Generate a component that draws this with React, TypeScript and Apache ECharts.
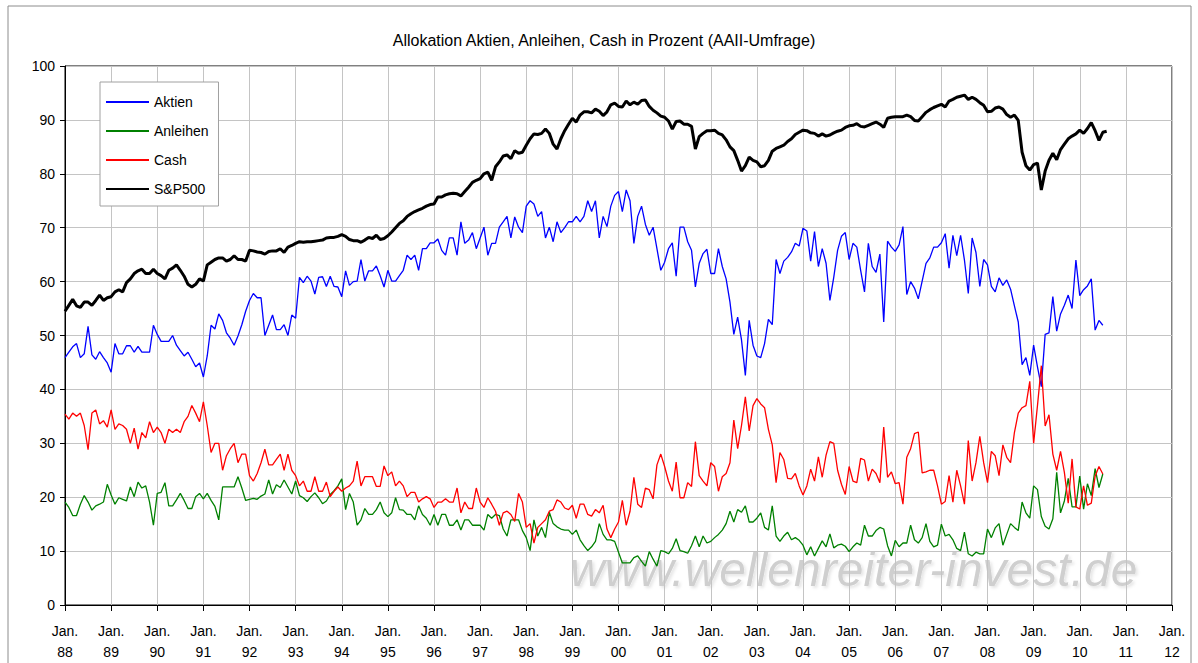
import React, { useEffect, useRef } from "react";
import * as echarts from "echarts";

// Monthly survey values starting Jan. 1988
const START_YEAR = 1988;
const TITLE = "Allokation Aktien, Anleihen, Cash in Prozent (AAII-Umfrage)";
const SERIES_NAMES = ["Aktien", "Anleihen", "Cash", "S&P500"];
const Y_TICKS_MAX = 100;
const X_MIN_YEAR = 1988;
const X_MAX_YEAR = 2012;

const aktien = [
  45.9, 46.9, 47.9, 48.5, 45.9, 46.6, 51.7, 46.4, 45.6, 47.0, 45.9, 44.9,
  43.2, 48.5, 46.6, 46.6, 48.1, 48.1, 46.9, 48.0, 46.9, 46.9, 46.9, 51.9,
  50.2, 48.9, 48.9, 48.9, 50.0, 48.2, 47.2, 46.2, 46.9, 45.6, 44.2, 44.9,
  42.3, 46.2, 51.9, 51.2, 54.0, 52.8, 50.5, 49.5, 48.2, 49.9, 52.0, 54.5,
  56.5, 57.8, 57.0, 57.0, 50.0, 51.9, 53.8, 51.1, 51.1, 52.0, 50.0, 53.8,
  53.2, 60.8, 59.8, 61.0, 60.1, 57.7, 60.8, 60.9, 59.1, 61.0, 59.1, 59.0,
  57.2, 62.0, 59.3, 60.0, 60.1, 64.1, 60.1, 62.0, 62.0, 62.9, 61.1, 59.0,
  62.1, 60.1, 60.1, 61.1, 62.1, 64.9, 64.1, 64.9, 62.1, 66.1, 66.1, 67.2,
  67.2, 67.9, 65.8, 64.9, 68.1, 68.1, 64.9, 71.1, 67.1, 67.7, 69.1, 66.1,
  68.1, 70.1, 64.9, 67.1, 67.1, 70.1, 71.1, 72.1, 68.1, 72.0, 70.1, 69.1,
  74.0, 75.0, 74.4, 72.1, 73.0, 68.1, 70.1, 67.4, 71.1, 69.1, 70.0, 71.1,
  71.1, 72.1, 71.1, 72.1, 75.0, 73.0, 75.0, 68.1, 72.1, 70.2, 74.0, 76.0,
  76.7, 73.0, 77.0, 75.0, 67.1, 72.1, 74.0, 70.6, 68.6, 70.1, 66.1, 62.1,
  63.6, 66.1, 67.2, 61.0, 70.1, 70.1, 67.4, 65.8, 59.0, 63.4, 65.2, 66.0,
  61.5, 61.5, 66.1, 62.8, 60.5, 56.2, 50.2, 53.4, 49.2, 42.6, 52.8, 48.2,
  46.2, 45.9, 48.5, 53.0, 52.0, 64.1, 61.5, 63.8, 64.5, 65.5, 67.1, 66.6,
  69.9, 69.4, 63.8, 69.3, 62.8, 66.1, 63.4, 56.5, 60.8, 65.8, 68.4, 69.1,
  64.1, 67.1, 66.4, 62.1, 58.1, 67.1, 62.8, 61.7, 65.1, 52.5, 67.5, 66.4,
  65.6, 66.8, 70.2, 57.6, 60.0, 58.8, 56.8, 60.1, 63.4, 64.4, 66.4, 66.4,
  67.2, 68.9, 62.5, 68.6, 64.8, 68.6, 64.0, 57.8, 68.1, 65.4, 59.1, 64.1,
  63.1, 59.1, 58.1, 60.7, 59.3, 60.3, 58.6, 55.5, 52.5, 44.6, 45.9, 42.6,
  48.2, 44.2, 40.5, 50.2, 50.5, 57.2, 50.8, 54.0, 55.6, 57.5, 55.0, 64.0,
  57.4, 58.5, 59.2, 60.5, 51.0, 52.8, 51.9,
];

const anleihen = [
  19.1, 18.1, 16.6, 16.6, 18.7, 20.3, 19.1, 17.6, 18.4, 18.7, 19.1, 22.4,
  20.4, 18.7, 19.9, 19.6, 19.3, 21.9, 20.1, 22.8, 21.7, 22.1, 19.1, 14.8,
  20.7, 20.9, 22.7, 18.4, 18.4, 19.5, 20.7, 19.4, 17.9, 17.9, 20.1, 20.7,
  19.7, 20.7, 19.4, 18.3, 15.8, 21.9, 21.9, 21.9, 21.9, 23.8, 21.7, 19.4,
  19.6, 19.8, 19.6, 20.2, 20.6, 23.2, 20.6, 22.3, 21.8, 23.2, 21.9, 20.6,
  23.0, 20.3, 19.9, 19.2, 20.1, 20.8, 19.9, 18.8, 19.3, 20.5, 21.2, 22.1,
  23.4, 17.7, 20.7, 19.1, 14.8, 15.8, 17.9, 16.8, 16.8, 17.7, 19.1, 17.1,
  16.4, 17.1, 19.9, 17.7, 17.6, 16.8, 16.8, 15.8, 18.4, 16.8, 16.1, 14.8,
  16.8, 14.8, 16.8, 16.8, 14.8, 14.8, 15.8, 13.9, 15.8, 15.8, 14.8, 14.8,
  14.8, 13.9, 16.8, 16.1, 16.8, 16.6, 14.1, 12.8, 15.8, 15.8, 15.8, 13.8,
  12.5, 10.1, 15.8, 12.8, 14.4, 12.5, 17.2, 15.1, 14.5, 14.1, 13.9, 13.9,
  13.1, 13.9, 12.1, 11.0, 10.1, 10.8, 11.8, 15.1, 13.1, 12.1, 12.1, 11.8,
  9.8, 7.8, 7.8, 7.8, 8.8, 9.1, 8.1, 7.2, 9.9, 8.5, 7.2, 10.1,
  9.9, 9.5, 10.5, 12.3, 10.1, 9.9, 9.6, 11.0, 12.8, 10.8, 12.8, 11.5,
  11.8, 12.5, 13.1, 13.9, 15.1, 17.4, 15.4, 17.7, 17.2, 18.4, 15.4, 15.4,
  16.1, 17.1, 14.4, 13.9, 18.4, 12.8, 11.8, 12.8, 13.5, 12.1, 12.5, 12.0,
  11.1, 9.3, 10.8, 9.1, 10.5, 11.9, 10.8, 13.2, 10.6, 11.1, 11.3, 10.9,
  9.9, 10.8, 11.5, 11.1, 14.8, 12.8, 12.8, 13.8, 14.4, 14.1, 11.0, 9.1,
  12.0, 10.8, 11.5, 11.5, 14.8, 12.1, 11.5, 12.5, 15.1, 11.8, 10.8, 11.1,
  15.0, 12.8, 13.1, 12.1, 10.5, 10.1, 13.5, 9.5, 9.1, 9.8, 9.5, 9.5,
  14.1, 12.5, 14.3, 15.1, 11.1, 13.1, 15.1, 14.4, 13.8, 19.1, 17.1, 16.1,
  22.1, 21.4, 16.4, 14.6, 14.1, 16.0, 24.6, 17.1, 19.3, 23.5, 18.2, 18.2,
  23.9, 17.8, 22.5, 20.3, 25.3, 21.8, 24.3,
];

const cash = [
  35.4, 34.5, 35.6, 35.0, 35.6, 33.3, 28.8, 35.6, 36.2, 33.6, 34.2, 33.0,
  36.2, 32.6, 33.6, 33.3, 32.6, 30.0, 32.8, 28.9, 32.0, 31.0, 34.0, 32.0,
  33.0, 32.0, 30.0, 32.6, 32.0, 32.6, 32.0, 34.0, 35.0, 37.0, 35.6, 34.0,
  37.7, 33.3, 28.3, 30.0, 30.0, 25.0, 27.7, 29.0, 30.0, 26.4, 28.0, 28.0,
  24.0, 23.0, 24.4, 26.4, 28.9, 26.0, 26.0, 27.0, 28.0, 25.0, 28.0, 25.0,
  24.0, 22.1, 23.0, 21.1, 21.1, 23.8, 21.1, 21.1, 22.8, 20.1, 21.1, 21.9,
  21.1, 21.7, 22.1, 23.0, 26.7, 22.1, 23.8, 23.8, 23.8, 22.0, 22.0, 25.8,
  24.0, 24.7, 22.1, 23.0, 22.1, 20.1, 20.9, 20.9, 19.1, 19.7, 20.1, 19.7,
  18.1, 19.1, 19.1, 19.7, 19.1, 19.1, 21.7, 17.1, 19.1, 17.9, 17.9, 21.7,
  19.1, 18.1, 19.9, 18.7, 17.4, 14.8, 17.1, 17.4, 16.8, 15.5, 20.7, 19.1,
  14.4, 15.1, 11.5, 14.4, 15.1, 15.8, 17.4, 17.7, 19.5, 19.1, 18.0, 17.7,
  18.5, 16.1, 18.7, 18.7, 16.8, 16.5, 17.7, 17.1, 18.5, 14.1, 12.5, 14.1,
  15.4, 19.4, 14.8, 17.4, 23.7, 18.7, 18.1, 21.7, 21.4, 19.7, 26.0, 28.0,
  25.7, 23.0, 21.1, 26.5, 19.9, 19.9, 22.7, 22.0, 30.3, 24.0, 23.0, 22.1,
  26.4, 25.7, 21.1, 23.8, 24.4, 26.4, 34.3, 29.0, 33.3, 38.6, 32.3, 37.0,
  38.3, 37.3, 36.6, 32.6, 29.7, 22.7, 28.3, 27.0, 23.5, 23.4, 24.4, 22.1,
  20.4, 22.1, 25.2, 23.0, 27.5, 23.7, 27.8, 30.3, 30.0, 25.0, 22.4, 20.5,
  25.7, 23.0, 22.7, 27.2, 26.9, 23.0, 25.2, 24.4, 22.7, 33.0, 23.7, 24.7,
  22.5, 22.7, 18.7, 27.4, 29.0, 31.8, 32.1, 24.5, 24.7, 25.0, 25.0, 22.1,
  18.7, 19.2, 24.0, 19.1, 25.0, 22.1, 18.7, 30.5, 23.0, 26.4, 31.3, 26.4,
  22.7, 28.5, 27.7, 24.0, 29.7, 27.4, 26.4, 32.0, 35.6, 36.6, 37.0, 41.5,
  30.0, 37.0, 44.4, 33.2, 35.3, 28.0, 25.0, 28.5, 24.6, 18.9, 27.1, 18.2,
  17.8, 22.1, 18.5, 18.9, 23.9, 25.7, 24.3,
];

// S&P 500, rescaled onto the same percent axis as in the original chart
const sp500 = [
  54.5, 55.6, 56.7, 55.5, 55.2, 56.2, 56.2, 55.6, 56.5, 57.5, 56.5, 57.0,
  57.2, 58.1, 58.5, 58.1, 59.8, 60.5, 61.5, 62.0, 62.3, 61.5, 61.5, 62.3,
  61.5, 61.1, 60.5, 62.1, 62.5, 63.1, 62.1, 61.0, 59.5, 59.0, 59.5, 60.5,
  60.1, 63.1, 63.6, 64.1, 64.4, 64.4, 63.8, 64.1, 64.8, 64.1, 64.1, 63.8,
  65.8, 65.7, 65.5, 65.4, 65.1, 65.6, 65.7, 65.7, 66.1, 65.4, 66.4, 66.7,
  67.1, 67.4, 67.3, 67.4, 67.4, 67.5, 67.6, 67.7, 68.1, 68.2, 68.2, 68.4,
  68.7, 68.4, 67.8, 67.6, 67.6, 67.3, 67.7, 68.2, 68.0, 68.6, 67.8, 68.0,
  68.5, 69.2, 70.0, 70.8, 71.3, 72.1, 72.6, 73.0, 73.3, 73.6, 74.0, 74.3,
  74.4, 75.7, 75.7, 76.1, 76.3, 76.4, 76.3, 75.9, 76.7, 77.5, 78.4, 78.8,
  79.1, 80.0, 80.3, 78.8, 81.3, 82.2, 83.3, 83.5, 82.8, 84.3, 83.8, 84.0,
  85.3, 86.5, 87.4, 87.3, 87.5, 88.3, 87.5, 85.5, 84.6, 86.5, 88.0, 89.2,
  90.3, 89.6, 90.9, 91.5, 91.5, 91.3, 92.0, 91.6, 90.8, 91.5, 92.8, 93.1,
  92.5, 92.4, 93.5, 92.8, 93.3, 92.9, 93.6, 93.7, 92.5, 91.8, 91.3, 90.7,
  90.5, 89.8, 88.3, 89.7, 89.8, 89.2, 89.2, 88.8, 84.6, 86.9, 87.5, 88.0,
  88.0, 88.1, 87.5, 87.2, 86.3, 85.0, 84.3, 82.5, 80.5, 81.5, 83.1, 82.5,
  82.2, 81.3, 81.5, 82.5, 84.2, 84.7, 85.0, 85.3, 86.0, 86.5, 87.3, 87.7,
  88.1, 88.0, 87.6, 87.5, 87.0, 87.4, 87.0, 87.2, 87.6, 87.9, 88.1, 88.6,
  88.9, 89.0, 89.3, 88.8, 88.7, 89.0, 89.3, 89.6, 89.2, 88.6, 90.3, 90.5,
  90.6, 90.6, 90.6, 90.9, 90.6, 89.9, 89.8, 90.6, 91.4, 91.9, 92.3, 92.6,
  92.9, 92.4, 93.5, 93.8, 94.2, 94.4, 94.6, 93.8, 94.2, 93.8, 93.2, 92.7,
  91.5, 91.6, 92.2, 92.4, 92.0, 91.0, 90.5, 90.9, 89.9, 84.0, 81.5, 80.7,
  81.7, 82.0, 77.0, 80.5, 82.5, 83.8, 82.6, 84.5, 85.5, 86.5, 87.0, 87.4,
  88.1, 87.5, 88.4, 89.5, 88.0, 86.2, 87.7, 87.9,
];

const FONT = "'Liberation Sans', Arial, Helvetica, sans-serif";

function toPairs(values: number[]): [number, number][] {
  return values.map((v, i) => [START_YEAR + i / 12, v]);
}

export default function App() {
  const ref = useRef<HTMLDivElement>(null);

  useEffect(() => {
    if (!ref.current) return;
    const chart = echarts.init(ref.current, undefined, { renderer: "svg" });
    const seriesData = [aktien, anleihen, cash, sp500];
    const colors = ["#0000ff", "#008000", "#ff0000", "#000000"];
    const widths = [1.3, 1.3, 1.3, 3];

    chart.setOption({
      animation: false,
      backgroundColor: "#ffffff",
      textStyle: { fontFamily: FONT },
      grid: {
        left: 65,
        right: 26,
        top: 66,
        bottom: 58,
        show: true,
        borderColor: "#000000",
        borderWidth: 1,
        backgroundColor: "transparent",
      },
      legend: {
        orient: "vertical",
        left: 100,
        top: 82,
        itemWidth: 43,
        itemHeight: 14,
        itemGap: 15,
        padding: [13, 10, 10, 5],
        backgroundColor: "#ffffff",
        borderColor: "#a0a0a0",
        borderWidth: 1,
        borderRadius: 0,
        itemStyle: { opacity: 0, borderWidth: 0 },
        textStyle: { fontFamily: FONT, fontSize: 14, color: "#000" },
        data: SERIES_NAMES,
      },
      xAxis: {
        type: "value",
        min: X_MIN_YEAR,
        max: X_MAX_YEAR,
        interval: 1,
        axisLine: { show: true, lineStyle: { color: "#000", width: 1 } },
        axisTick: { show: true, length: 6, lineStyle: { color: "#000" } },
        splitLine: { show: true, lineStyle: { color: "#c4c4c4", width: 1 } },
        axisLabel: {
          fontFamily: FONT,
          fontSize: 14,
          color: "#000",
          lineHeight: 21,
          margin: 15,
          formatter: (v: number) =>
            "Jan.\n" + String(Math.round(v) % 100).padStart(2, "0"),
        },
      },
      yAxis: {
        type: "value",
        min: 0,
        max: Y_TICKS_MAX,
        interval: 10,
        axisLine: { show: true, lineStyle: { color: "#000", width: 1 } },
        axisTick: { show: true, length: 5, lineStyle: { color: "#000" } },
        splitLine: { show: true, lineStyle: { color: "#c4c4c4", width: 1 } },
        axisLabel: { fontFamily: FONT, fontSize: 14, color: "#000", margin: 10 },
      },
      graphic: [
        {
          type: "rect",
          shape: { x: 8, y: 6, width: 1183, height: 660 },
          style: { fill: "none", stroke: "#8c8c8c", lineWidth: 1 },
          silent: true,
          z: 0,
        },
        {
          type: "text",
          x: 604,
          y: 40,
          style: {
            text: TITLE,
            fontFamily: FONT,
            fontSize: 16,
            fill: "#000",
            textAlign: "center",
            textVerticalAlign: "middle",
          },
          z: 10,
        },
        {
          type: "text",
          x: 570,
          y: 569,
          style: {
            text: "www.wellenreiter-invest.de",
            fontFamily: FONT,
            fontStyle: "italic",
            fontSize: 48,
            fill: "#cfcfcf",
            textAlign: "left",
            textVerticalAlign: "middle",
            textShadowColor: "rgba(0,0,0,0.10)",
            textShadowBlur: 3,
            textShadowOffsetX: 2,
            textShadowOffsetY: 2,
          },
          silent: true,
          z: -1,
        },
      ],
      series: SERIES_NAMES.map((name, k) => ({
        name,
        type: "line",
        data: toPairs(seriesData[k]),
        symbol: "none",
        showSymbol: false,
        smooth: false,
        z: 3,
        lineStyle: { color: colors[k], width: widths[k] },
        itemStyle: { color: colors[k] },
      })),
    });

    return () => chart.dispose();
  }, []);

  return (
    <div
      ref={ref}
      style={{ position: "absolute", left: 0, top: 0, width: 1198, height: 663 }}
    />
  );
}
